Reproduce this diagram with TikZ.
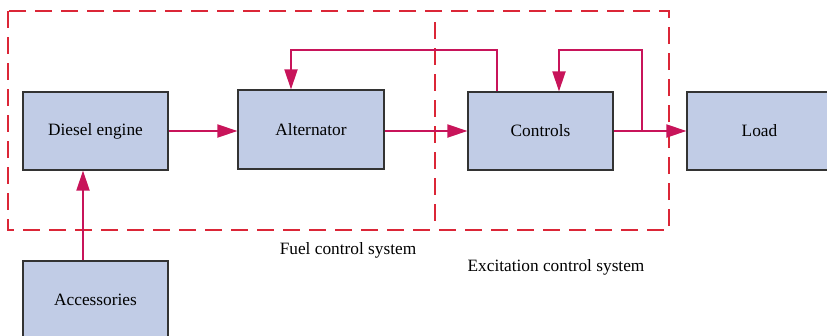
\documentclass[tikz,border=0pt]{standalone}
\usepackage{fontspec}
\setmainfont{Liberation Serif}
\usetikzlibrary{arrows.meta}
\definecolor{boxfill}{HTML}{C1CCE6}
\definecolor{arrcol}{HTML}{C8145A}
\definecolor{dashcol}{HTML}{DB2637}
\begin{document}
\begin{tikzpicture}[x=1pt,y=-1pt,
  blk/.style={draw=black!80,fill=boxfill,line width=1.2pt,minimum width=145pt,minimum height=78pt,inner sep=0pt,font=\fontsize{17.3}{20}\selectfont},
  arr/.style={draw=arrcol,line width=2pt,-{Triangle[length=20pt,width=13pt]}},
  dsh/.style={draw=dashcol,line width=1.1pt,dash pattern=on 17pt off 9pt},
  lbl/.style={font=\fontsize{17.3}{20}\selectfont,inner sep=0pt}]
\useasboundingbox (0,0) rectangle (827,335);
\clip (0,0) rectangle (827,335);
% dashed regions
\draw[dsh] (8,11) rectangle (669,230);
\draw[dsh] (435,22) -- (435,224);
% blocks
\node[blk] (diesel) at (95.5,131) {Diesel engine};
\node[blk] (acc) at (95.5,300) {Accessories};
\node[blk,minimum width=146pt,minimum height=79pt] (alt) at (311,129.5) {Alternator};
\node[blk] (ctrl) at (540.5,131) {Controls};
\node[blk] (load) at (759.5,131) {Load};
% connectors
\draw[arr] (diesel.east) -- (alt.west |- diesel.east);
\draw[arr] ([xshift=-12.5pt]acc.north) -- ([xshift=-12.5pt]diesel.south);
\draw[arr] (alt.east |- ctrl.west) -- (ctrl.west);
\draw[arr] (ctrl.east) -- (load.west);
\coordinate (f1) at (496.5,50);
\coordinate (f2) at (642,50);
\draw[arr] (ctrl.north -| f1) -- (f1) -| ([xshift=-20pt]alt.north);
\draw[arr] (f2 |- ctrl.east) -- (f2) -| ([xshift=18.5pt]ctrl.north);
% labels
\node[lbl] (fuel) at (348,250) {Fuel control system};
\node[lbl] (exc) at (556,267) {Excitation control system};
\end{tikzpicture}
\end{document}
